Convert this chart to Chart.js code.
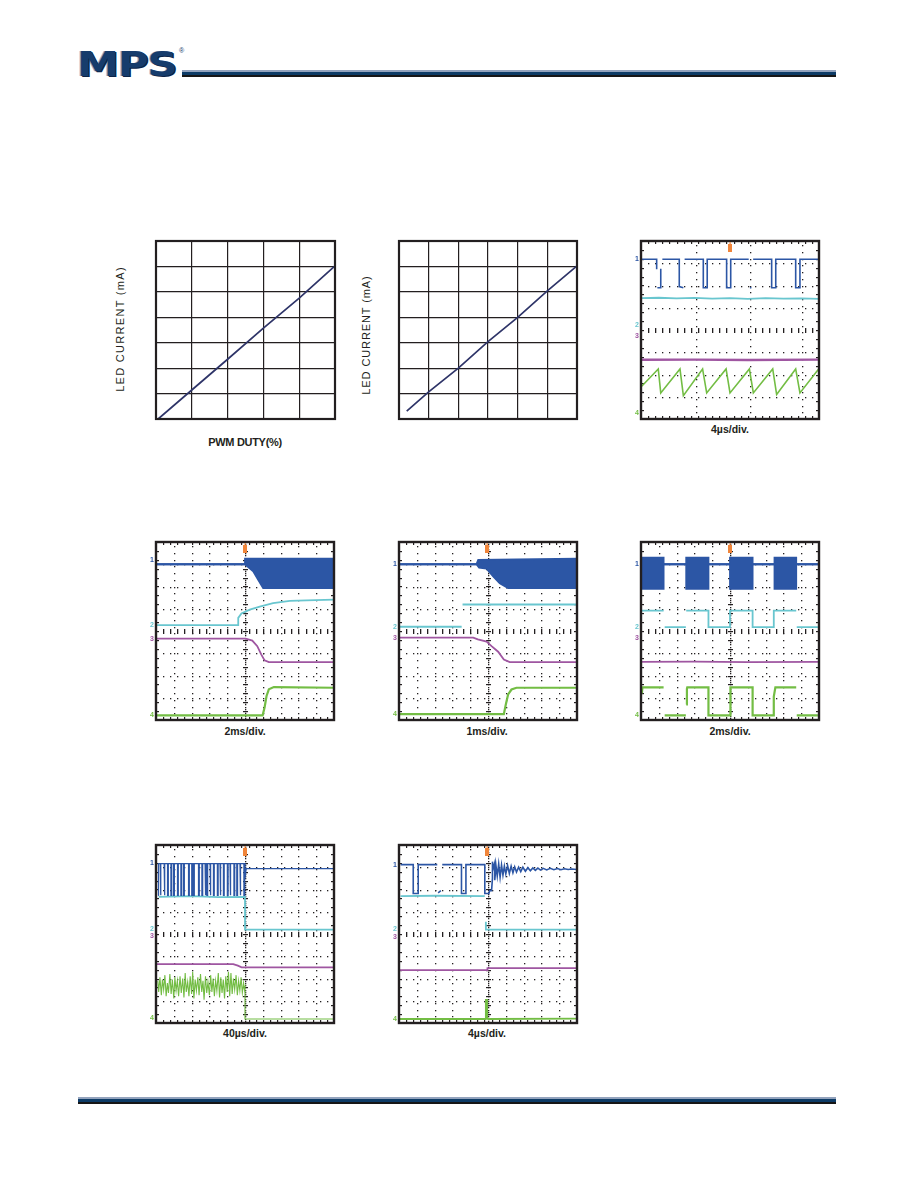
<!DOCTYPE html>
<html>
<head>
<meta charset="utf-8">
<title>Typical performance characteristics</title>
<script src="https://cdn.jsdelivr.net/npm/chart.js@4.4.1/dist/chart.umd.min.js"></script>
<style>
  body { margin: 0; background: #fff; font-family: "Liberation Sans", Arial, sans-serif; color: #231f20; }
  #page { position: relative; width: 918px; height: 1188px; overflow: hidden; }
  canvas { position: absolute; }
  .logo { position: absolute; left: 77px; top: 44px; font: bold 34px "DejaVu Sans"; line-height: 40px; color: #163c6c;
          transform: scaleX(1.24); transform-origin: 0 0; letter-spacing: -1px; text-shadow: 1px 1px 0 #0b2447, -1px 0 0 #9aa9c2; }
  .reg { position: absolute; left: 179px; top: 47px; font-size: 7px; color: #163c6c; }
  .rule { position: absolute; left: 182px; top: 70px; width: 654px; height: 3px; background: #0d3b66;
          border-top: 2px solid #93a3bd; border-bottom: 2px solid #161616; }
  .foot { position: absolute; left: 78px; top: 1097px; width: 758px; height: 3px; background: #0d3b66;
          border-top: 2px solid #93a3bd; border-bottom: 2px solid #161616; }
  .cap { position: absolute; font-weight: bold; font-size: 10.5px; line-height: 12px; transform: translateX(-50%); white-space: nowrap; }
  .ylab { position: absolute; font-size: 11px; line-height: 12px; white-space: nowrap; transform: translate(-50%, -50%) rotate(-90deg); }
</style>
</head>
<body>
<div id="page">
  <div class="logo">MPS</div>
  <div class="reg">&reg;</div>
  <div class="rule"></div>

  <div class="ylab" style="left:120px; top:329px; letter-spacing:1.3px;">LED CURRENT (mA)</div>
  <canvas id="duty1" width="183" height="182" style="left:154px; top:239px;"></canvas>
  <div class="cap" style="left:245px; top:436px; font-size:11px; letter-spacing:-0.3px;">PWM DUTY(%)</div>

  <div class="ylab" style="left:366px; top:335px; letter-spacing:0.9px;">LED CURRENT (mA)</div>
  <canvas id="duty2" width="182" height="182" style="left:397px; top:239px;"></canvas>

  <canvas id="sc1" width="194" height="184" style="left:629px; top:237px;"></canvas>
  <div class="cap" style="left:730px; top:423px;">4&micro;s/div.</div>

  <canvas id="sc2" width="194" height="184" style="left:144px; top:538px;"></canvas>
  <div class="cap" style="left:245px; top:725px;">2ms/div.</div>
  <canvas id="sc3" width="194" height="184" style="left:387px; top:538px;"></canvas>
  <div class="cap" style="left:487px; top:725px;">1ms/div.</div>
  <canvas id="sc4" width="194" height="184" style="left:629px; top:538px;"></canvas>
  <div class="cap" style="left:730px; top:725px;">2ms/div.</div>

  <canvas id="sc5" width="194" height="184" style="left:144px; top:841px;"></canvas>
  <div class="cap" style="left:245px; top:1027px;">40&micro;s/div.</div>
  <canvas id="sc6" width="194" height="184" style="left:387px; top:841px;"></canvas>
  <div class="cap" style="left:487px; top:1027px;">4&micro;s/div.</div>

  <div class="foot"></div>
</div>

<script>
'use strict';

var INK    = '#231f20';
var NAVY   = '#2e3468';
var BLUE   = '#2c56a5';
var CYAN   = '#69c6cf';
var PURPLE = '#9f56a1';
var GREEN  = '#73bd44';
var ORANGE = '#f0853a';

// LED current vs PWM duty (grid units)
var duty1X = [0.06, 1, 2, 3, 4, 5];
var led1Y  = [0, 1.14, 2.35, 3.57, 4.75, 6.02];
var duty2X = [0.26, 1, 2, 3, 4, 5, 5.98];
var led2Y  = [0.31, 1.07, 2.0, 3.04, 4.0, 5.04, 6.0];

// scope traces, [time div, volt div], null = trace gap
var s1Blue = [[0, 7.18], [0.88, 7.18], [0.88, 6.73], [0.88, null], [0.92, 5.9], [1.11, 5.9], [1.11, 6.75], [1.11, null],
              [1.2, 7.18], [2.1, 7.18], [2.15, 7.18], [2.15, 5.95], [2.38, 5.9], [2.38, null], [2.45, 7.18], [3.5, 7.18],
              [3.5, 5.9], [3.72, 5.9], [3.72, 7.18], [4.81, 7.18], [4.81, 5.9], [5.04, 5.9], [5.04, 7.18], [6.05, 7.18],
              [6.05, null], [6.12, 5.9], [6.2, 5.9], [6.2, null], [6.3, 7.18], [7.34, 7.18], [7.34, 5.9], [7.57, 5.9],
              [7.57, 7.18], [8.69, 7.18], [8.69, 5.9], [8.93, 5.9], [8.93, 7.18], [10, 7.18]];
var s1Cyan = [[0, 5.43], [1, 5.45], [2, 5.42], [3, 5.44], [4, 5.41], [5, 5.43], [6, 5.4], [7, 5.43], [8, 5.41], [9, 5.42], [10, 5.4]];
var s1Purple = [[0, 2.66], [3, 2.67], [6, 2.65], [10, 2.67]];
var s1Green = [[0.04, 1.47], [0.97, 2.25], [1.11, 1.17], [2.19, 2.25], [2.38, 1.05], [3.46, 2.25], [3.69, 1.17], [4.78, 2.25],
               [5.0, 1.17], [6.09, 2.25], [6.31, 1.17], [7.4, 2.25], [7.62, 1.1], [8.69, 2.25], [8.93, 1.17], [9.96, 2.22]];

var s2BlueTop = [[0, 7.0], [5.0, 7.0], [5.0, 7.25], [10, 7.25]];
var s2BlueBot = [[0, 7.0], [5.0, 7.0], [5.46, 6.68], [5.74, 6.3], [6.02, 5.93], [10, 5.93]];
var s2Cyan = [[0, 4.26], [4.62, 4.26], [4.62, 4.59], [4.8, 4.79], [5.27, 4.96], [5.83, 5.1], [6.58, 5.25], [7.52, 5.35], [8.45, 5.38], [10, 5.41]];
var s2Purple = [[0, 3.66], [5.04, 3.66], [5.41, 3.57], [5.69, 3.32], [5.91, 2.95], [6.1, 2.68], [6.34, 2.6], [10, 2.6]];
var s2Green = [[0, 0.21], [5.99, 0.21], [6.1, 0.56], [6.21, 1.08], [6.34, 1.38], [6.62, 1.48], [10, 1.45]];

var s3BlueTop = [[0, 7.0], [4.35, 7.0], [4.45, 7.2], [10, 7.25]];
var s3BlueBot = [[0, 7.0], [4.35, 7.0], [4.5, 6.85], [4.92, 6.8], [5.29, 6.45], [5.66, 6.15], [6.13, 5.93], [10, 5.93]];
var s3Cyan = [[0, 4.19], [3.52, 4.19], [3.54, null], [3.57, 5.19], [10, 5.19]];
var s3Purple = [[0, 3.7], [4.17, 3.7], [4.43, 3.62], [4.92, 3.52], [5.2, 3.32], [5.57, 3.07], [5.89, 2.72], [6.22, 2.6], [10, 2.6]];
var s3Green = [[0, 0.26], [5.89, 0.26], [6.0, 0.7], [6.13, 1.15], [6.32, 1.37], [6.6, 1.45], [10, 1.45]];

var s4BlueTop = [[0, 7.0], [0.05, 7.0], [0.05, 7.3], [1.27, 7.3], [1.27, 7.0], [2.54, 7.0], [2.54, 7.3], [3.79, 7.3], [3.79, 7.0],
                 [5.0, 7.0], [5.0, 7.3], [6.27, 7.3], [6.27, 7.0], [7.5, 7.0], [7.5, 7.3], [8.72, 7.3], [8.72, 7.0], [10, 7.0]];
var s4BlueBot = [[0, 7.0], [0.05, 7.0], [0.05, 5.9], [1.27, 5.9], [1.27, 7.0], [2.54, 7.0], [2.54, 5.9], [3.79, 5.9], [3.79, 7.0],
                 [5.0, 7.0], [5.0, 5.9], [6.27, 5.9], [6.27, 7.0], [7.5, 7.0], [7.5, 5.9], [8.72, 5.9], [8.72, 7.0], [10, 7.0]];
var s4Cyan = [[0.05, 4.92], [1.27, 4.92], [1.28, null], [1.33, 4.17], [2.52, 4.17], [2.53, null], [2.54, 4.92], [3.79, 4.92],
              [3.79, 4.17], [5.0, 4.17], [5.0, 4.92], [6.27, 4.92], [6.27, 4.17], [7.46, 4.17], [7.46, 4.92], [8.72, 4.92],
              [8.73, null], [8.75, 4.17], [9.94, 4.17]];
var s4Purple = [[0, 2.61], [3, 2.62], [6, 2.6], [10, 2.61]];
var s4Green = [[0.05, 1.2], [0.08, 1.47], [1.27, 1.47], [1.28, null], [1.33, 0.21], [2.52, 0.21], [2.52, null], [2.54, 0.7],
               [2.58, 1.4], [2.6, 1.47], [3.79, 1.47], [3.79, 0.21], [5.0, 0.21], [5.0, 1.2], [5.05, 1.47], [6.27, 1.47],
               [6.27, 0.21], [7.46, 0.21], [7.46, 1.05], [7.55, 1.47], [8.72, 1.47], [8.73, null], [8.75, 0.21], [9.94, 0.21]];

var s5BluePulses = [0.12, 0.24, 0.46, 0.65, 0.84, 0.99, 1.21, 1.4, 1.55, 1.83, 2.01, 2.11, 2.39, 2.58, 2.76, 2.86, 3.04,
                    3.23, 3.45, 3.6, 3.79, 4.01, 4.16, 4.38, 4.54, 4.72, 4.94];
var s5BlueTail = [[5.0, 7.16], [5.0, 6.5], [5.06, 6.94], [10, 6.94]];
var s5Cyan = [[0.15, 5.67], [2, 5.7], [3.5, 5.66], [5.0, 5.67], [5.0, 4.2], [10, 4.2]];
var s5Purple = [[0, 2.65], [4.34, 2.65], [4.6, 2.58], [4.81, 2.5], [10, 2.5]];
var s5Green = [[0.1, 1.9], [0.15, 1.4], [0.22, 2.05], [0.3, 1.25], [0.36, 1.95], [0.43, 1.5], [0.5, 2.15], [0.57, 1.2],
               [0.64, 1.8], [0.7, 1.35], [0.78, 2.2], [0.85, 1.3], [0.92, 1.95], [1.0, 1.1], [1.06, 2.05], [1.13, 1.45],
               [1.2, 1.9], [1.27, 1.2], [1.35, 2.1], [1.42, 1.35], [1.5, 2.0], [1.57, 1.15], [1.64, 2.25], [1.7, 1.4],
               [1.78, 1.85], [1.85, 1.2], [1.92, 2.1], [2.0, 1.3], [2.06, 2.3], [2.13, 1.1], [2.2, 1.95], [2.27, 1.45],
               [2.35, 2.05], [2.42, 1.25], [2.5, 2.2], [2.57, 1.4], [2.64, 1.9], [2.7, 1.05], [2.78, 2.1], [2.85, 1.35],
               [2.92, 1.85], [3.0, 1.25], [3.07, 2.15], [3.14, 1.4], [3.21, 2.0], [3.28, 1.2], [3.35, 1.9], [3.42, 1.45],
               [3.5, 2.25], [3.57, 1.15], [3.64, 2.05], [3.71, 1.35], [3.78, 1.95], [3.85, 1.1], [3.92, 2.1], [4.0, 1.4],
               [4.07, 2.3], [4.14, 1.2], [4.21, 2.25], [4.28, 1.3], [4.35, 2.0], [4.42, 1.5], [4.5, 2.15], [4.57, 1.25],
               [4.64, 1.9], [4.71, 1.45], [4.78, 2.05], [4.85, 1.35], [4.92, 1.8], [4.97, 1.5], [5.0, 1.6], [5.0, 0.18],
               [10, 0.18]];

var s6Blue = [[0.09, 7.12], [0.8, 7.12], [0.8, 5.82], [1.08, 5.82], [1.08, 7.12], [2.15, 7.12], [2.15, null], [2.2, 5.85],
              [2.35, 5.95], [2.36, null], [2.43, 7.12], [3.51, 7.12], [3.51, 5.82], [3.76, 5.82], [3.76, 7.12], [4.82, 7.12],
              [4.82, 5.82], [5.05, 5.82], [5.1, 5.95], [5.2, 5.95], [5.25, 6.5], [5.25, 7.25], [5.3, 6.95], [5.38, 7.2],
              [5.38, 6.42], [5.45, 7.05], [5.52, 6.6], [5.6, 7.15], [5.68, 6.55], [5.76, 7.1], [5.84, 6.65], [5.92, 7.05],
              [6.0, 6.7], [6.1, 7.08], [6.2, 6.72], [6.3, 7.05], [6.4, 6.75], [6.5, 7.02], [6.6, 6.78], [6.72, 7.0],
              [6.84, 6.8], [6.96, 7.0], [7.1, 6.82], [7.24, 6.98], [7.38, 6.84], [7.52, 6.97], [7.66, 6.86], [7.8, 6.96],
              [7.95, 6.87], [8.1, 6.95], [8.3, 6.88], [8.5, 6.95], [8.7, 6.89], [8.9, 6.94], [9.1, 6.89], [9.3, 6.93],
              [9.5, 6.9], [9.7, 6.92], [10, 6.9]];
var s6Cyan = [[0.09, 5.7], [2, 5.72], [4.82, 5.7], [4.83, null], [4.88, 4.55], [4.88, 4.2], [10, 4.2]];
var s6Purple = [[0, 2.38], [4.95, 2.38], [4.97, 2.47], [10, 2.47]];
var s6Green = [[0, 0.18], [4.88, 0.18], [4.88, 1.04], [4.95, 1.04], [4.95, 0.25], [5.0, 0.18], [10, 0.2]];

// trigger position per scope (time div)
var trigPos = [5.0, 5.0, 4.95, 5.0, 5.0, 4.95];
// channel ground markers per scope, channels 1..4 (volt div)
var gnd1 = [7.18, 4.22, 3.74, 0.27];
var gnd2 = [7.2, 4.26, 3.66, 0.21];
var gnd3 = [7.0, 4.19, 3.7, 0.26];
var gnd4 = [7.0, 4.17, 3.7, 0.21];
var gnd5 = [7.2, 4.2, 3.9, 0.2];
var gnd6 = [7.1, 4.2, 3.85, 0.18];
var chanColors = [BLUE, CYAN, PURPLE, GREEN];

function pulseTrain(xs, hi, lo, w) {
    var pts = [[xs[0], lo]];
    xs.forEach(function (p) {
        pts.push([p, hi], [p, lo], [p + w, lo], [p + w, hi]);
    });
    return pts;
}

var frame = {
    id: 'frame',
    afterDraw: function (chart) {
        var a = chart.chartArea, ctx = chart.ctx;
        ctx.save();
        ctx.strokeStyle = INK;
        ctx.lineWidth = 2.2;
        ctx.strokeRect(a.left, a.top, a.right - a.left, a.bottom - a.top);
        ctx.restore();
    }
};

var scopeGrid = {
    id: 'scopeGrid',
    beforeDatasetsDraw: function (chart, args, o) {
        var ctx = chart.ctx, a = chart.chartArea, x = chart.scales.x, y = chart.scales.y;
        var t, px, py;
        ctx.save();
        ctx.fillStyle = INK;
        (o.xLines || [1, 2, 3, 4, 6, 7, 8, 9]).forEach(function (v) {
            px = Math.round(x.getPixelForValue(v));
            for (t = 0.3; t < 8; t += 0.3) ctx.fillRect(px, Math.round(y.getPixelForValue(t)), 1.3, 1.3);
        });
        [1, 2, 3, 5, 6, 7].forEach(function (v) {
            py = Math.round(y.getPixelForValue(v));
            for (t = 0.4; t < 10; t += 0.4) ctx.fillRect(Math.round(x.getPixelForValue(t)), py, 1.3, 1.3);
        });
        // centre lines with minor ticks
        py = Math.round(y.getPixelForValue(4));
        for (t = 0.4; t < 10; t += 0.4) ctx.fillRect(Math.round(x.getPixelForValue(t)), py - 2, 1.3, 5);
        if (o.vCenter) {
            px = Math.round(x.getPixelForValue(5));
            for (t = 0.1; t < 8; t += 0.1) ctx.fillRect(px, Math.round(y.getPixelForValue(t)), 1.3, 1.3);
            for (t = 0.4; t < 8; t += 0.4) ctx.fillRect(px - 2, Math.round(y.getPixelForValue(t)), 5, 1.2);
        }
        // edge ticks
        for (t = 0.4; t < 10; t += 0.4) {
            px = Math.round(x.getPixelForValue(t));
            ctx.fillRect(px, a.top, 1.2, 3);
            ctx.fillRect(px, a.bottom - 3, 1.2, 3);
        }
        for (t = 0.4; t < 8; t += 0.4) {
            py = Math.round(y.getPixelForValue(t));
            ctx.fillRect(a.left, py, 3, 1.2);
            ctx.fillRect(a.right - 3, py, 3, 1.2);
        }
        ctx.restore();
    },
    afterDraw: function (chart, args, o) {
        var ctx = chart.ctx, a = chart.chartArea, x = chart.scales.x, y = chart.scales.y;
        ctx.save();
        ctx.strokeStyle = INK;
        ctx.lineWidth = 2.4;
        ctx.strokeRect(a.left, a.top, a.right - a.left, a.bottom - a.top);
        // trigger marker
        var tx = Math.round(x.getPixelForValue(o.trig));
        ctx.fillStyle = ORANGE;
        ctx.fillRect(tx - 2, a.top + 3, 4, 8);
        ctx.fillRect(tx - 0.5, a.top + 1, 1.2, 2);
        // channel ground markers at the left edge
        ctx.font = 'bold 7px "Liberation Sans", Arial, sans-serif';
        ctx.textAlign = 'right';
        ctx.textBaseline = 'middle';
        (o.gnd || []).forEach(function (v, i) {
            ctx.fillStyle = chanColors[i];
            ctx.fillText(String(i + 1), a.left - 2, y.getPixelForValue(v));
        });
        ctx.restore();
    }
};

function trace(data, color, width, extra) {
    return Object.assign({
        data: data, borderColor: color, backgroundColor: color, borderWidth: width || 1.8,
        pointRadius: 0, tension: 0, spanGaps: false, fill: false
    }, extra || {});
}

function lineChart(id, xs, ys, cols, rows) {
    var gridOpts = { color: INK, lineWidth: 1.2, drawTicks: false };
    return new Chart(document.getElementById(id), {
        type: 'line',
        data: {
            datasets: [{
                data: xs.map(function (v, i) { return { x: v, y: ys[i] }; }),
                borderColor: NAVY, borderWidth: 1.7, pointRadius: 0, tension: 0
            }]
        },
        options: {
            responsive: false,
            animation: false,
            layout: { padding: 2 },
            plugins: { legend: { display: false }, tooltip: { enabled: false } },
            scales: {
                x: { type: 'linear', min: 0, max: cols, ticks: { display: false, stepSize: 1 }, grid: gridOpts, border: { display: false } },
                y: { min: 0, max: rows, ticks: { display: false, stepSize: 1 }, grid: gridOpts, border: { display: false } }
            }
        },
        plugins: [frame]
    });
}

function scope(id, datasets, trig, gnd, xLines, vCenter) {
    return new Chart(document.getElementById(id), {
        type: 'line',
        data: { datasets: datasets },
        options: {
            responsive: false,
            animation: false,
            layout: { padding: { left: 12, top: 4, right: 4, bottom: 2 } },
            scales: {
                x: { type: 'linear', min: 0, max: 10, display: false },
                y: { min: 0, max: 8, display: false }
            },
            plugins: {
                legend: { display: false },
                tooltip: { enabled: false },
                scopeGrid: { trig: trig, gnd: gnd, xLines: xLines, vCenter: vCenter }
            }
        },
        plugins: [scopeGrid]
    });
}

lineChart('duty1', duty1X, led1Y, 5, 7);
lineChart('duty2', duty2X, led2Y, 6, 7);

scope('sc1', [
    trace(s1Blue, BLUE, 1.6),
    trace(s1Cyan, CYAN),
    trace(s1Purple, PURPLE, 2.4),
    trace(s1Green, GREEN, 1.6)
], trigPos[0], gnd1, [3.1, 6.1, 9.05], false);

scope('sc2', [
    trace(s2BlueTop, BLUE, 1.8, { fill: '+1' }),
    trace(s2BlueBot, BLUE),
    trace(s2Cyan, CYAN),
    trace(s2Purple, PURPLE),
    trace(s2Green, GREEN, 2.2)
], trigPos[1], gnd2, null, true);

scope('sc3', [
    trace(s3BlueTop, BLUE, 1.8, { fill: '+1' }),
    trace(s3BlueBot, BLUE),
    trace(s3Cyan, CYAN),
    trace(s3Purple, PURPLE),
    trace(s3Green, GREEN, 2.2)
], trigPos[2], gnd3, null, true);

scope('sc4', [
    trace(s4BlueTop, BLUE, 1.8, { fill: '+1' }),
    trace(s4BlueBot, BLUE),
    trace(s4Cyan, CYAN),
    trace(s4Purple, PURPLE),
    trace(s4Green, GREEN, 2.2)
], trigPos[3], gnd4, null, true);

scope('sc5', [
    trace(pulseTrain(s5BluePulses, 7.16, 5.74, 0.04).concat(s5BlueTail), BLUE, 1.3),
    trace(s5Cyan, CYAN),
    trace(s5Purple, PURPLE),
    trace(s5Green, GREEN, 1.1)
], trigPos[4], gnd5, null, true);

scope('sc6', [
    trace(s6Blue, BLUE, 1.6),
    trace(s6Cyan, CYAN),
    trace(s6Purple, PURPLE),
    trace(s6Green, GREEN)
], trigPos[5], gnd6, null, true);
</script>
</body>
</html>
